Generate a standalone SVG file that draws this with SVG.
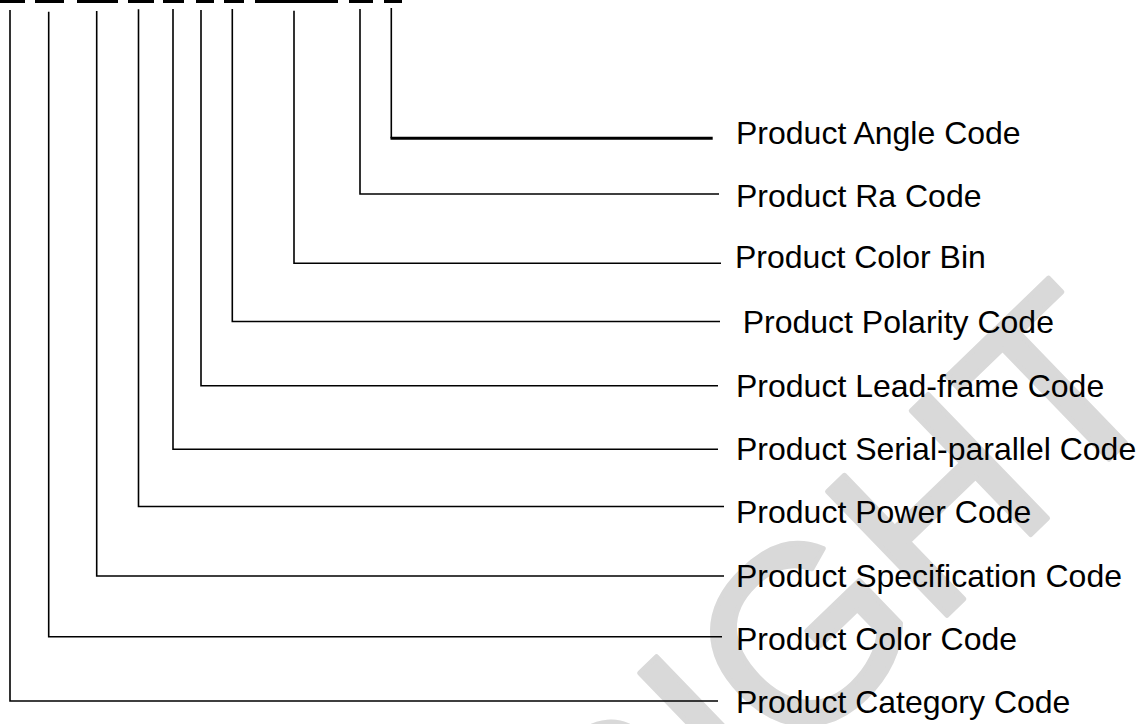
<svg xmlns="http://www.w3.org/2000/svg" width="1141" height="724" viewBox="0 0 1141 724">
<style>
.lbl{font-family:"Liberation Sans",Arial,sans-serif;font-size:32px;fill:#000}
.ln{fill:none;stroke:#000;stroke-width:1.6}
.wm{font-family:"Liberation Sans",Arial,sans-serif;font-size:250px;fill:#d9d9d9;stroke:#d9d9d9;stroke-width:5;stroke-linejoin:round}
</style>
<rect width="1141" height="724" fill="#fff"/>
<g id="watermark">
<text class="wm" text-anchor="end" transform="translate(1172,398) rotate(-44)">COPYRIGHT</text>
</g>
<g id="code-dashes" fill="#000">
<rect x="0" y="0" width="25" height="3"/>
<rect x="35" y="0" width="29" height="3"/>
<rect x="77" y="0" width="41" height="3"/>
<rect x="128" y="0" width="26" height="3"/>
<rect x="163" y="0" width="21" height="3"/>
<rect x="196" y="0" width="18" height="3"/>
<rect x="224" y="0" width="20" height="3"/>
<rect x="255" y="0" width="83" height="3"/>
<rect x="349" y="0" width="24" height="3"/>
<rect x="384" y="0" width="18" height="3"/>
</g>
<g id="connectors">
<path class="ln" d="M391.3 8 V138.3" />
<path d="M390.5 138.3 H712.7" stroke="#000" stroke-width="3" fill="none"/>
<path class="ln" d="M360 9 V194 H719"/>
<path class="ln" d="M294 10.7 V263.3 H721"/>
<path class="ln" d="M232.3 9 V321.5 H720"/>
<path class="ln" d="M201 10 V385.7 H718"/>
<path class="ln" d="M173 9 V449.3 H718"/>
<path class="ln" d="M138.5 9.3 V506.5 H724"/>
<path class="ln" d="M96.7 11 V576 H724"/>
<path class="ln" d="M48.7 11.7 V636.8 H722"/>
<path class="ln" d="M10 10 V701 H718"/>
</g>
<g id="n-angle"><text class="lbl" x="736" y="143.5">Product Angle Code</text></g>
<g id="n-ra"><text class="lbl" x="736" y="207.3">Product Ra Code</text></g>
<g id="n-colorbin"><text class="lbl" x="735" y="268.3">Product Color Bin</text></g>
<g id="n-polarity"><text class="lbl" x="742.7" y="333.3">Product Polarity Code</text></g>
<g id="n-leadframe"><text class="lbl" x="736" y="396.7">Product Lead-frame Code</text></g>
<g id="n-serial"><text class="lbl" x="736" y="460">Product Serial-parallel Code</text></g>
<g id="n-power"><text class="lbl" x="736" y="523.3">Product Power Code</text></g>
<g id="n-spec"><text class="lbl" x="736" y="587.3">Product Specification Code</text></g>
<g id="n-color"><text class="lbl" x="736" y="650">Product Color Code</text></g>
<g id="n-category"><text class="lbl" x="736" y="713.3">Product Category Code</text></g>
</svg>
